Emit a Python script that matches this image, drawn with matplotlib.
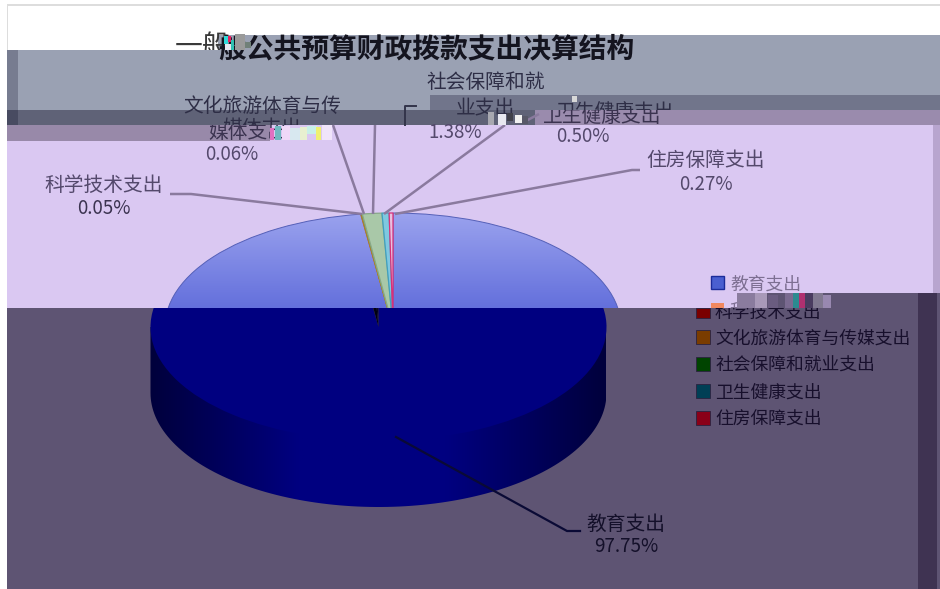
import matplotlib
matplotlib.use('Agg')
import matplotlib.pyplot as plt
import matplotlib.patches as patches
import numpy as np

plt.rcParams['font.family'] = ['Noto Sans CJK SC', 'DejaVu Sans']

# data
categories = ['教育支出', '科学技术支出', '文化旅游体育与传媒支出', '社会保障和就业支出', '卫生健康支出', '住房保障支出']
values = [97.75, 0.05, 0.06, 1.38, 0.50, 0.27]

W, H = 940, 589
LILAC = '#DAC8F2'
SLATE = '#9AA1B3'
DUSK = '#5E5473'

upper_colors = ['#7080E0', '#D08040', '#A09A40', '#A9C8A8', '#7FC8E0', '#E8C0E0']
upper_edges = ['#5560B8', '#C07030', '#909030', '#88A888', '#40A0C0', '#D8307A']
legend_upper = ['#4A5FD0', '#F08860']
legend_lower = ['#7A0000', '#7A3C00', '#004400', '#003F55', '#8A0018']

fig = plt.figure(figsize=(W / 100, H / 100), dpi=100, facecolor='white')


def pixel_axes(zorder):
    # axes over the whole figure, in image pixels
    a = fig.add_axes([0, 0, 1, 1], zorder=zorder)
    a.set_xlim(0, W)
    a.set_ylim(H, 0)
    a.axis('off')
    return a


def pie_axes(x0, x1, y0, y1, cx, cy, a, b, zorder):
    # axes whose data space is the unit pie, squashed into an ellipse
    ax = fig.add_axes([x0 / W, 1 - y1 / H, (x1 - x0) / W, (y1 - y0) / H], zorder=zorder)
    ax.patch.set_alpha(0)
    limits = ((x0 - cx) / a, (x1 - cx) / a, (cy - y1) / b, (cy - y0) / b)
    return ax, limits


def clip_wedges(ax, wedges):
    # pie switches clipping off, the broken picture needs it back
    for w in wedges:
        w.set_clip_on(True)
        w.set_clip_path(ax.patch)


bg = pixel_axes(0)
top = pixel_axes(5)


def band(x0, y0, x1, y1, color):
    bg.add_patch(patches.Rectangle((x0, y0), x1 - x0, y1 - y0, facecolor=color, edgecolor='none'))


# broken background strips
band(7, 4, W, 6, '#DDDDDD')
band(7, 4, 8, 50, '#DDDDDD')
band(218, 35, W, 50, SLATE)
band(7, 50, W, 110, SLATE)
band(7, 50, 18, 110, '#777C90')
band(430, 95, W, 110, '#71758B')
band(7, 110, W, 125, '#5F6277')
band(7, 110, 18, 125, '#484B61')
band(535, 110, W, 125, '#9A8BAD')
band(7, 125, W, 308, LILAC)
band(7, 125, 270, 141, '#9889A9')
band(933, 125, W, 293, '#B8A5CF')
band(7, 308, W, H, DUSK)
band(737, 293, W, 308, DUSK)
band(918, 293, 937, H, '#3F3352')

# 3d pie, upper half (shifted right of the lower half)
ax_u, lim_u = pie_axes(160, 630, 205, 308, 393, 327, 228, 114, 1)
wedges_u, _ = ax_u.pie(values, colors=upper_colors, startangle=90, counterclock=False, radius=1,
                       wedgeprops={'linewidth': 0.9})
for w, ec in zip(wedges_u, upper_edges):
    w.set_edgecolor(ec)
clip_wedges(ax_u, wedges_u)
wedges_u[0].set_facecolor('none')
wedges_u[0].set_linewidth(0.7)
grad = np.linspace(0, 1, 64).reshape(-1, 1)
cmap_u = matplotlib.colors.LinearSegmentedColormap.from_list('u', ['#9AA2EE', '#6470DC'])
im = ax_u.imshow(grad, cmap=cmap_u, extent=(-1, 1, 0.167, 1), aspect='auto', zorder=0.5)
im.set_clip_path(wedges_u[0])
ax_u.set_aspect('auto')
ax_u.set_xlim(lim_u[0], lim_u[1])
ax_u.set_ylim(lim_u[2], lim_u[3])
ax_u.axis('off')

# lower half
ax_l, lim_l = pie_axes(140, 620, 308, 515, 378.5, 327, 228, 114, 1)
depth = 66 / 114
theta = np.linspace(np.pi, 2 * np.pi, 120)
wall = patches.Polygon(np.column_stack([np.r_[-1, np.cos(theta), 1], np.r_[0, np.sin(theta) - depth, 0]]),
                       facecolor='none', edgecolor='none')
ax_l.add_patch(wall)
wall_grad = np.interp(np.linspace(-1, 1, 200), [-1, -0.35, 0.3, 1], [0, 1, 1, 0]).reshape(1, -1)
cmap_l = matplotlib.colors.LinearSegmentedColormap.from_list('l', ['#00003C', '#000080'])
im_l = ax_l.imshow(wall_grad, cmap=cmap_l, extent=(-1, 1, -1 - depth, 0), aspect='auto', zorder=0.5)
im_l.set_clip_path(wall)
lower_colors = ['#000080', '#000000', '#000000', '#000010', '#000020', '#000030']
wedges_l, _ = ax_l.pie(values, colors=lower_colors, startangle=90, counterclock=False, radius=1,
                       wedgeprops={'linewidth': 0})
clip_wedges(ax_l, wedges_l)
ax_l.set_aspect('auto')
ax_l.set_xlim(lim_l[0], lim_l[1])
ax_l.set_ylim(lim_l[2], lim_l[3])
ax_l.axis('off')

# leader lines
GREY_LINE = '#8A7A9E'
leaders = [
    ([170, 191, 362], [194, 194, 214]),
    ([333, 364], [125, 214]),
    ([375, 373], [125, 214]),
    ([505, 384], [125, 214]),
    ([640, 632, 395], [170, 170, 214]),
    ([524, 539], [122, 114]),
]
for xs, ys in leaders:
    top.plot(xs, ys, color=GREY_LINE, lw=1.8, solid_capstyle='butt')
top.plot([405, 405, 416], [125, 106, 106], color='#33344A', lw=1.4)
top.plot([396, 567, 580], [437, 531, 531], color='#0A0A35', lw=1.6)


def label(x, y, s, color, size=14.2, clip=None, ha='center', **kw):
    t = top.text(x, y + 2, s, color=color, fontsize=size, ha=ha, va='center', **kw)
    if clip is not None:
        rect = patches.Rectangle((clip[0], clip[1]), clip[2] - clip[0], clip[3] - clip[1], transform=top.transData)
        t.set_clip_path(rect)
        t.set_clip_on(True)
    return t


ON_SLATE = '#2E2E46'
ON_LILAC = '#54496C'

# title, cut into two pieces by the broken strips
label(175, 46, '一般', '#3A3A3A', size=20, clip=(0, 0, 228, 50), ha='left')
label(218, 47, '般公共预算财政拨款支出决算结构', '#14141F', size=20, ha='left', fontweight='bold')

label(486, 81, '社会保障和就', ON_SLATE)
label(485, 106, '业支出', ON_SLATE, clip=(0, 0, W, 125))
label(455, 131, f'{values[3]:.2f}%', ON_LILAC, size=13.5)

label(262, 104, '文化旅游体育与传', ON_SLATE)
label(262, 127, '媒体支出', ON_SLATE, clip=(0, 0, W, 125))
label(248, 130, '媒体支出', '#3B3350', clip=(0, 125, W, H))
label(232, 152, f'{values[2]:.2f}%', ON_LILAC, size=13.5)

label(104, 183, categories[1], ON_LILAC)
label(104, 207, f'{values[1]:.2f}%', '#3B3350', size=13.5)

label(615, 110, categories[4], ON_SLATE, clip=(0, 0, W, 110))
label(602, 114, categories[4], '#3B3350', clip=(0, 110, W, 125))
label(583, 135, f'{values[4]:.2f}%', ON_LILAC, size=13.5)

label(706, 159, categories[5], ON_LILAC)
label(706, 183, f'{values[5]:.2f}%', ON_LILAC, size=13.5)

label(626, 522, categories[0], '#14102A')
label(626, 545, f'{values[0]:.2f}%', '#14102A', size=13.5)

# legend, also split at y=308
LEG = 12.8
top.add_patch(patches.Rectangle((711, 276), 13, 13, facecolor=legend_upper[0], edgecolor='#1C2C9A', lw=1))
label(730, 283, categories[0], '#7D6F92', size=LEG, ha='left', clip=(0, 0, W, 293))
top.add_patch(patches.Rectangle((711, 303), 13, 5, facecolor=legend_upper[1], edgecolor='none'))
label(730, 310, categories[1], '#7D6F92', size=LEG, ha='left', clip=(0, 293, 737, 308))
legend_y = [311, 337, 364, 391, 418]
for i, (yy, col) in enumerate(zip(legend_y, legend_lower)):
    y0 = max(yy - 7, 308)
    top.add_patch(patches.Rectangle((696, y0), 14, yy + 7 - y0, facecolor=col, edgecolor='#2B2240', lw=0.6))
    label(715, yy, categories[i + 1], '#170F2C', size=LEG, ha='left', clip=(0, 308, W, H))

# corrupted pixel blocks
blocks = [
    (224, 36, 4, 8, '#30D8D8'), (228, 36, 3, 6, '#E82060'), (231, 40, 3, 10, '#30C0B0'),
    (235, 34, 10, 16, '#9A9A9A'), (225, 44, 6, 6, '#E8E8F0'), (245, 42, 6, 6, '#708078'),
    (282, 126, 8, 14, '#F0D8F8'), (290, 128, 10, 12, '#D8E8F0'), (300, 127, 7, 13, '#E8F0D0'),
    (307, 126, 10, 8, '#C8F0E8'), (316, 127, 5, 13, '#F0F070'), (322, 125, 10, 15, '#F0E4FA'),
    (270, 128, 4, 12, '#E070C0'), (275, 126, 6, 14, '#70B8C0'),
    (488, 112, 6, 13, '#A8A8B0'), (498, 114, 8, 11, '#E8E8F0'), (507, 113, 6, 8, '#40404A'),
    (515, 115, 7, 8, '#F0F0F0'), (522, 116, 6, 8, '#585868'), (572, 96, 5, 6, '#D8D8D8'),
    (737, 293, 18, 15, '#8A7C9E'), (755, 293, 12, 15, '#A899B8'), (768, 295, 10, 13, '#6A5C80'),
    (785, 293, 8, 15, '#7A6A90'), (793, 293, 6, 15, '#2C8A90'), (799, 293, 6, 15, '#B03070'),
    (805, 293, 8, 15, '#4A3C60'), (813, 293, 10, 15, '#807890'), (823, 295, 8, 13, '#9888B0'),
]
for bx, by, bw, bh, col in blocks:
    top.add_patch(patches.Rectangle((bx, by), bw, bh, facecolor=col, edgecolor='none', zorder=4))

fig.savefig('out.png', dpi=100)
